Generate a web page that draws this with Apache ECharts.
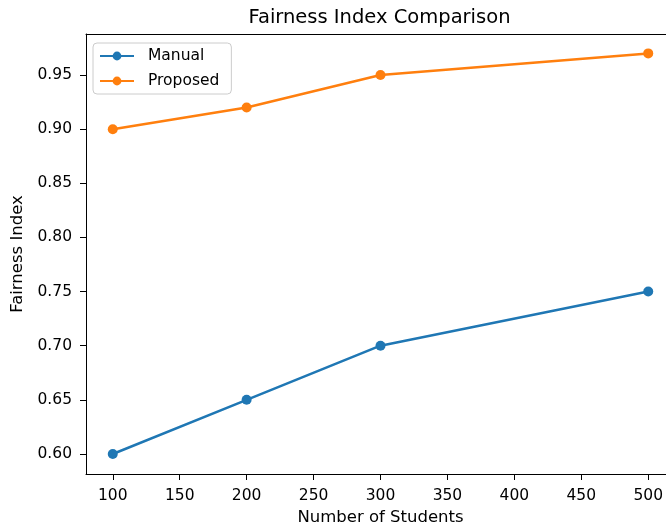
<!DOCTYPE html>
<html>
<head>
<meta charset="utf-8">
<script src="https://cdn.jsdelivr.net/npm/echarts@6/dist/echarts.min.js"></script>
<style>html,body{margin:0;padding:0;background:#fff;overflow:hidden;}#c{width:666px;height:527px;}</style>
</head>
<body>
<div id="c"></div>
<script>
const students = [100, 200, 300, 500];
const manual = [0.60, 0.65, 0.70, 0.75];
const proposed = [0.90, 0.92, 0.95, 0.97];
const xTicks = [100, 150, 200, 250, 300, 350, 400, 450, 500];
const yTicks = [0.60, 0.65, 0.70, 0.75, 0.80, 0.85, 0.90, 0.95];

const font = 'DejaVu Sans';
// the plot runs past the right edge of the picture (x range 80..520 spans 589px)
const xMin = 80, xMax = 80 + (666 - 86) * (440 / 589);
const chart = echarts.init(document.getElementById('c'), null, {renderer: 'canvas'});
chart.setOption({
  animation: false,
  backgroundColor: '#fff',
  title: {
    text: 'Fairness Index Comparison',
    left: 374.5, top: 3, textAlign: 'center',
    textStyle: {fontFamily: font, fontSize: 19.5, fontWeight: 'normal', color: '#000'}
  },
  legend: {
    left: 93, top: 43, orient: 'vertical',
    backgroundColor: 'rgba(255,255,255,0.8)',
    borderColor: '#cccccc', borderWidth: 1, borderRadius: 4,
    padding: [5, 12, 5, 6],
    itemGap: 9, itemWidth: 34, itemHeight: 11,
    textStyle: {fontFamily: font, fontSize: 15.5, color: '#000', padding: [0, 0, 0, 9]},
    data: ['Manual', 'Proposed']
  },
  grid: {
    left: 86, top: 34, right: 0, height: 440, containLabel: false,
    outerBoundsMode: 'none'
  },
  xAxis: [{
    type: 'value', min: xMin, max: xMax,
    name: 'Number of Students', nameLocation: 'middle', nameGap: 33,
    nameTextStyle: {fontFamily: font, fontSize: 16.5, color: '#000', padding: [0, 0, 0, 9]},
    axisLine: {show: true, lineStyle: {color: '#000', width: 1}},
    axisTick: {show: true, length: 6, lineStyle: {color: '#000'}, customValues: xTicks},
    axisLabel: {fontFamily: font, fontSize: 15.5, color: '#000', margin: 14, customValues: xTicks,
      formatter: v => String(v)},
    splitLine: {show: false}
  }, {
    type: 'value', position: 'top', min: xMin, max: xMax,
    axisLine: {show: true, lineStyle: {color: '#000', width: 1}},
    axisTick: {show: false}, axisLabel: {show: false}, splitLine: {show: false}
  }],
  yAxis: {
    type: 'value', min: 0.5815, max: 0.9879,
    name: 'Fairness Index', nameLocation: 'middle', nameGap: 55, nameRotate: 90,
    nameTextStyle: {fontFamily: font, fontSize: 16.5, color: '#000'},
    axisLine: {show: true, lineStyle: {color: '#000', width: 1}},
    axisTick: {show: true, length: 6, lineStyle: {color: '#000'}, customValues: yTicks},
    axisLabel: {fontFamily: font, fontSize: 15.5, color: '#000', margin: 14, customValues: yTicks,
      formatter: v => v.toFixed(2)},
    splitLine: {show: false}
  },
  series: [
    {
      name: 'Manual', type: 'line',
      data: students.map((s, i) => [s, manual[i]]),
      symbol: 'circle', symbolSize: 10,
      lineStyle: {color: '#1f77b4', width: 2.5},
      itemStyle: {color: '#1f77b4'}
    },
    {
      name: 'Proposed', type: 'line',
      data: students.map((s, i) => [s, proposed[i]]),
      symbol: 'circle', symbolSize: 10,
      lineStyle: {color: '#ff7f0e', width: 2.5},
      itemStyle: {color: '#ff7f0e'}
    }
  ]
});
</script>
</body>
</html>
